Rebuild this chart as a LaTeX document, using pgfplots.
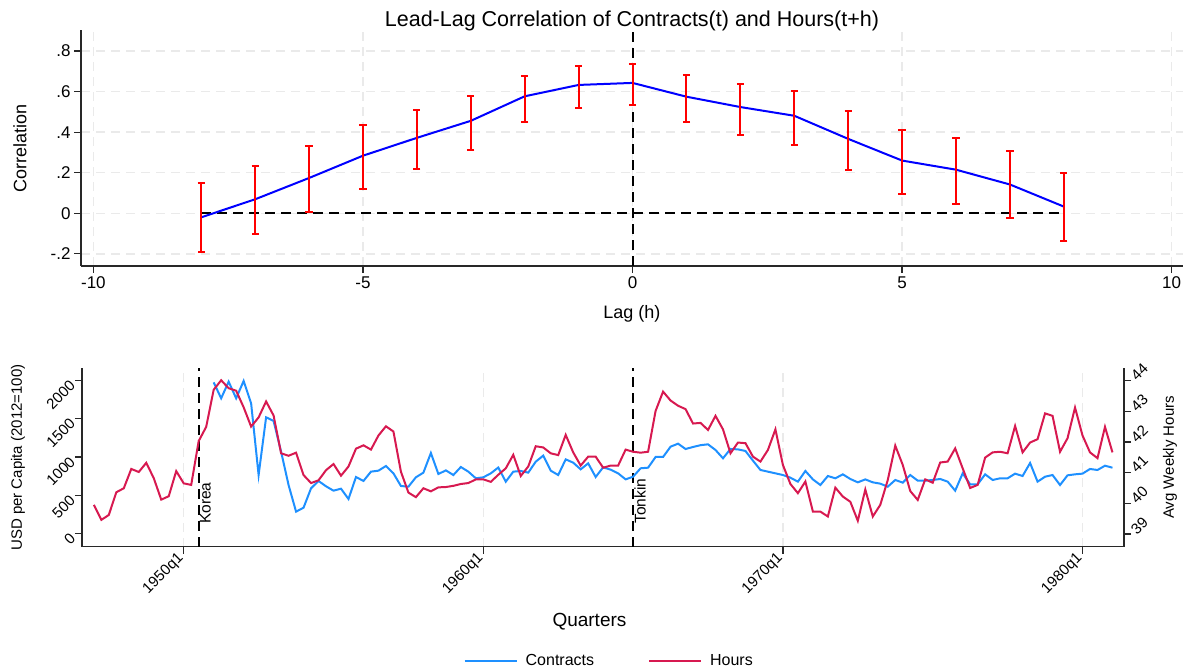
\documentclass[border=0pt]{standalone}
\usepackage{fontspec}
\setmainfont{Liberation Sans}
\usepackage{pgfplots}
\pgfplotsset{compat=1.18}
\usepackage{pgfplotstable}
\definecolor{cblue}{RGB}{30,144,255}
\definecolor{chours}{RGB}{215,25,80}
\definecolor{gridc}{RGB}{234,234,234}
\definecolor{axc}{RGB}{40,40,40}

\pgfplotstableread{
lag corr lo hi
-8 -0.020 -0.190 0.149
-7 0.069 -0.100 0.235
-6 0.174 0.005 0.334
-5 0.284 0.122 0.433
-4 0.372 0.217 0.507
-3 0.456 0.311 0.580
-2 0.577 0.450 0.679
-1 0.633 0.519 0.727
0 0.643 0.532 0.736
1 0.575 0.451 0.681
2 0.524 0.388 0.638
3 0.481 0.339 0.602
4 0.367 0.212 0.506
5 0.260 0.094 0.410
6 0.215 0.046 0.370
7 0.142 -0.025 0.307
8 0.033 -0.139 0.198
}\corrtab

% t = quarters since 1950q1
\pgfplotstableread{
t hours
-12 39.95
-11 39.46
-10 39.62
-9 40.36
-8 40.49
-7 41.12
-6 41.02
-5 41.32
-4 40.82
-3 40.12
-2 40.23
-1 41.05
0 40.65
1 40.60
2 42.03
3 42.49
4 43.70
5 44.01
6 43.75
7 43.67
8 43.13
9 42.50
10 42.80
11 43.32
12 42.86
13 41.63
14 41.55
15 41.65
16 40.92
17 40.66
18 40.75
19 41.08
20 41.28
21 40.90
22 41.20
23 41.78
24 41.89
25 41.75
26 42.21
27 42.51
28 42.34
29 41.03
30 40.35
31 40.20
32 40.49
33 40.39
34 40.52
35 40.53
36 40.57
37 40.63
38 40.66
39 40.78
40 40.78
41 40.70
42 40.93
43 41.14
44 41.58
45 40.89
46 41.20
47 41.86
48 41.82
49 41.63
50 41.57
51 42.23
52 41.66
53 41.23
54 41.52
55 41.52
56 41.16
57 41.23
58 41.23
59 41.75
60 41.68
61 41.65
62 41.68
63 43.01
64 43.64
65 43.35
66 43.18
67 43.07
68 42.60
69 42.62
70 42.39
71 42.85
72 42.41
73 41.63
74 41.98
75 41.96
76 41.52
77 41.36
78 41.74
79 42.41
80 41.25
81 40.63
82 40.33
83 40.71
84 39.73
85 39.73
86 39.57
87 40.51
88 40.22
89 40.05
90 39.43
91 40.45
92 39.57
93 39.95
94 40.76
95 41.88
96 41.25
97 40.40
98 40.11
99 40.78
100 40.67
101 41.33
102 41.36
103 41.79
104 41.14
105 40.50
106 40.60
107 41.49
108 41.66
109 41.68
110 41.63
111 42.52
112 41.66
113 41.98
114 42.09
115 42.93
116 42.85
117 41.68
118 42.12
119 43.12
120 42.21
121 41.66
122 41.47
123 42.49
124 41.66
}\hourstab

\pgfplotstableread{
t contracts
4 1978
5 1769
6 1987
7 1769
8 1996
9 1703
10 764
11 1520
12 1472
13 1070
14 633
15 284
16 336
17 590
18 686
19 616
20 559
21 585
22 450
23 738
24 686
25 808
26 821
27 882
28 786
29 620
30 611
31 734
32 795
33 1052
34 777
35 825
36 764
37 869
38 808
39 721
40 734
41 786
42 862
43 677
44 808
45 817
46 795
47 939
48 1018
49 821
50 764
51 969
52 926
53 838
54 917
55 738
56 865
57 834
58 786
59 707
60 742
61 852
62 860
63 1000
64 1000
65 1135
66 1175
67 1105
68 1131
69 1155
70 1166
71 1092
72 983
73 1105
74 1100
75 1079
76 952
77 830
78 808
79 786
80 764
81 729
82 677
83 817
84 707
85 633
86 751
87 721
88 773
89 712
90 668
91 707
92 668
93 651
94 611
95 699
96 664
97 764
98 690
99 690
100 699
101 712
102 677
103 559
104 786
105 642
106 642
107 773
108 699
109 721
110 721
111 782
112 751
113 921
114 677
115 742
116 764
117 633
118 760
119 773
120 782
121 843
122 830
123 886
124 860
}\contab

\pgfplotsset{
  common/.style={
    scale only axis,
    axis line style={-, line width=1.3pt, axc},
    tick align=outside,
    major tick length=7pt,
    every tick/.style={line width=1.3pt, axc},
    major grid style={gridc, line width=1.4pt, dash pattern=on 9pt off 6pt},
  }
}

\begin{document}
\begin{tikzpicture}[x=1pt,y=1pt]
\useasboundingbox (0,0) rectangle (1183,671);

% ---------------- top panel ----------------
\begin{axis}[common,
  at={(81pt,405pt)}, anchor=south west,
  width=1102pt, height=236pt,
  xmin=-10.23, xmax=10.21, ymin=-0.26, ymax=0.904,
  axis x line*=bottom, axis y line*=left,
  xtick={-10,-5,0,5,10}, xticklabels={-10,-5,0,5,10},
  ytick={-0.2,0,0.2,0.4,0.6,0.8}, yticklabels={-.2,0,.2,.4,.6,.8},
  grid=major,
  ticklabel style={font=\fontsize{17}{20}\selectfont},
  xlabel={Lag (h)}, ylabel={Correlation},
  xlabel style={font=\fontsize{18}{21}\selectfont, at={(axis description cs:0.5,0)}, anchor=base, yshift=-53pt},
  ylabel style={font=\fontsize{18}{21}\selectfont, at={(axis description cs:-0.0555,0.5)}, anchor=center},
  title={Lead-Lag Correlation of Contracts(t) and Hours(t+h)},
  title style={font=\fontsize{21.5}{25}\selectfont, at={(axis description cs:0.5,1)}, anchor=base, yshift=-3pt},
]
\addplot[black, line width=2pt, dash pattern=on 10pt off 6pt, forget plot] coordinates {(-8,0) (8,0)};
\addplot[black, line width=2pt, dash pattern=on 10pt off 6pt, forget plot] coordinates {(0,-0.26) (0,0.904)};
\addplot[blue, line width=2pt, mark=none] table[x=lag, y=corr] {\corrtab};
\addplot[draw=none, mark=none,
  error bars/.cd, y dir=both, y explicit,
  error bar style={draw=red, line width=2pt},
  error mark options={rotate=90, mark size=3.6pt, line width=2pt, draw=red}]
  table[x=lag, y=corr,
        y error plus expr=\thisrow{hi}-\thisrow{corr},
        y error minus expr=\thisrow{corr}-\thisrow{lo}] {\corrtab};
\end{axis}

% ---------------- bottom panel, left axis ----------------
\begin{axis}[common,
  at={(82pt,124.3pt)}, anchor=south west,
  width=1042pt, height=178.4pt,
  xmin=-13.58, xmax=125.54, ymin=-175, ymax=2162,
  axis x line*=bottom, axis y line*=left,
  xtick={0,40,80,120}, xticklabels={1950q1,1960q1,1970q1,1980q1},
  xmajorgrids,
  ytick={0,500,1000,1500,2000}, yticklabels={0,500,1000,1500,2000},
  ticklabel style={font=\fontsize{15}{18}\selectfont},
  xticklabel style={rotate=45, anchor=east},
  yticklabel style={rotate=45, anchor=east},
  xlabel={Quarters},
  xlabel style={font=\fontsize{19}{22}\selectfont, at={(axis description cs:0.487,-0.422)}, anchor=center},
  ylabel={USD per Capita (2012=100)},
  ylabel style={font=\fontsize{15}{18}\selectfont, at={(axis description cs:-0.0614,0.5)}, anchor=center},
  legend style={at={(axis description cs:0.506,-0.641)}, anchor=center, draw=none, fill=none,
    legend columns=2, font=\fontsize{16}{19}\selectfont,
    /tikz/every odd column/.append style={column sep=6pt},
    /tikz/every even column/.append style={column sep=52pt}},
  legend image code/.code={\draw[#1] (0pt,0pt) -- (52pt,0pt);},
]
\addplot[black, line width=2pt, dash pattern=on 10pt off 6pt, forget plot] coordinates {(2,-175) (2,2162)};
\addplot[black, line width=2pt, dash pattern=on 10pt off 6pt, forget plot] coordinates {(60,-175) (60,2162)};
\node[rotate=90, anchor=north west, inner sep=1pt, font=\fontsize{15.5}{18}\selectfont] at (axis cs:2,110) {Korea};
\node[rotate=90, anchor=north west, inner sep=1pt, font=\fontsize{15.5}{18}\selectfont] at (axis cs:60,110) {Tonkin};
\addplot[cblue, line width=2pt, mark=none] table[x=t, y=contracts] {\contab};
\addlegendentry{Contracts}
\addlegendimage{chours, line width=2pt}
\addlegendentry{Hours}
\end{axis}

% ---------------- bottom panel, right axis ----------------
\begin{axis}[common,
  at={(82pt,124.3pt)}, anchor=south west,
  width=1042pt, height=178.4pt,
  xmin=-13.58, xmax=125.54, ymin=38.586, ymax=44.40,
  axis x line=none, axis y line*=right,
  ytick={39,40,41,42,43,44}, yticklabels={39,40,41,42,43,44},
  ticklabel style={font=\fontsize{15}{18}\selectfont},
  yticklabel style={rotate=45, anchor=west},
  ylabel={Avg Weekly Hours},
  ylabel style={font=\fontsize{15}{18}\selectfont, at={(axis description cs:1.0441,0.5)}, anchor=center, rotate=0},
]
\addplot[chours, line width=2pt, mark=none] table[x=t, y=hours] {\hourstab};
\end{axis}
\end{tikzpicture}
\end{document}
